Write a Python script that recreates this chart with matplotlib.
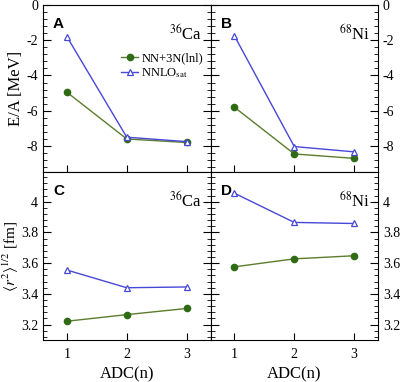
import numpy as np
import matplotlib.pyplot as plt
from matplotlib.ticker import MultipleLocator, AutoMinorLocator

plt.rcParams['font.family'] = 'Liberation Serif'
plt.rcParams['mathtext.fontset'] = 'stix'
plt.rcParams['axes.unicode_minus'] = False

adc = [1, 2, 3]

# energy per nucleon [MeV]
ca_E_nn3n = [-4.95, -7.6, -7.8]
ca_E_sat = [-1.8, -7.5, -7.75]
ni_E_nn3n = [-5.8, -8.45, -8.7]
ni_E_sat = [-1.75, -8.03, -8.33]

# rms radius [fm]
ca_r_nn3n = [3.222, 3.265, 3.305]
ca_r_sat = [3.555, 3.44, 3.445]
ni_r_nn3n = [3.576, 3.628, 3.648]
ni_r_sat = [4.055, 3.865, 3.858]

green = '#2f6b15'
gline = '#5b7d2c'
blue = '#4747d8'

fig = plt.figure(figsize=(4, 3.82), dpi=100)
gs = fig.add_gridspec(2, 2, left=0.1075, right=0.945, top=0.987, bottom=0.11,
                      wspace=0, hspace=0)

panels = [
    (0, 0, 'A', r'$^{36}$Ca', ca_E_nn3n, ca_E_sat),
    (0, 1, 'B', r'$^{68}$Ni', ni_E_nn3n, ni_E_sat),
    (1, 0, 'C', r'$^{36}$Ca', ca_r_nn3n, ca_r_sat),
    (1, 1, 'D', r'$^{68}$Ni', ni_r_nn3n, ni_r_sat),
]

for r, c, letter, nuc, y1, y2 in panels:
    ax = fig.add_subplot(gs[r, c])
    ax.plot(adc, y1, '-', color=gline, lw=1.0, marker='o', ms=4.5,
            mfc=green, mec=green, label='NN+3N(lnl)')
    ax.plot(adc, y2, '-', color=blue, lw=1.0, marker='^', ms=5,
            mfc='white', mec=blue, mew=0.9, label=r'NNLO$_{\rm sat}$')
    ax.set_xlim(0.6, 3.4)
    ax.set_xticks(adc)
    if r == 0:
        ax.set_ylim(-9.5, 0)
        ax.yaxis.set_major_locator(MultipleLocator(2))
        ax.set_xticklabels([])
    else:
        ax.set_ylim(3.1, 4.19)
        ax.set_yticks([3.2, 3.4, 3.6, 3.8, 4.0])
        ax.set_yticklabels(['3.2', '3.4', '3.6', '3.8', '4'])
        ax.set_xlabel('ADC(n)', fontsize=12)
    ax.yaxis.set_minor_locator(AutoMinorLocator(5))
    ax.tick_params(axis='y', which='both', direction='in', left=True, right=True,
                   labelsize=10)
    ax.tick_params(axis='y', which='major', length=6)
    ax.tick_params(axis='y', which='minor', length=3)
    ax.tick_params(axis='x', direction='in', length=5, labelsize=10, pad=6)
    if c == 1:
        ax.yaxis.tick_right()
        ax.tick_params(axis='y', which='both', left=True, right=True)
    else:
        ax.tick_params(axis='y', which='both', labelright=False)
    ax.text(0.06, 0.93, letter, transform=ax.transAxes, fontsize=11,
            fontweight='bold', family='Liberation Sans', va='top')
    ax.text(0.95, 0.89, nuc, transform=ax.transAxes, fontsize=12,
            ha='right', va='top')
    if letter == 'A':
        ax.set_ylabel('E/A [MeV]', fontsize=12, labelpad=2)
        ax.legend(loc='upper right', bbox_to_anchor=(1.0, 0.76), frameon=False,
                  fontsize=9, handlelength=1.3, handletextpad=0.3,
                  borderaxespad=0.2, labelspacing=0.15)
    if letter == 'C':
        ax.set_ylabel(r'$\langle r^2\rangle^{1/2}$ [fm]', fontsize=11, labelpad=0)

fig.savefig('out.png', dpi=100)
